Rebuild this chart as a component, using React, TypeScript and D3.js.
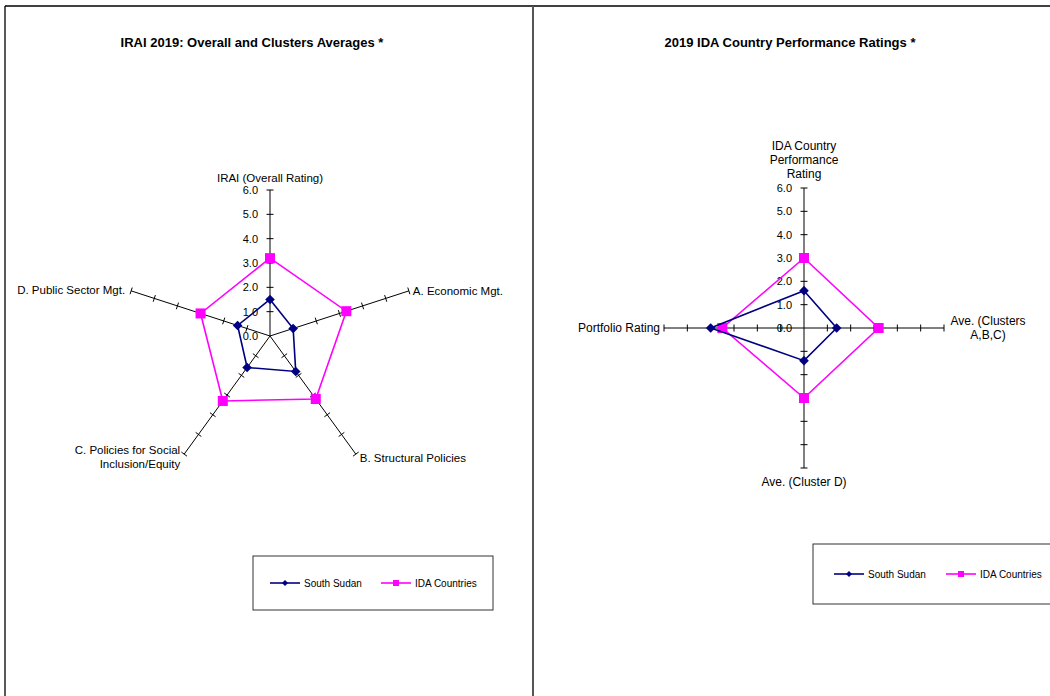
import { useEffect, useRef } from 'react';
import * as d3 from 'd3';

// IRAI chart (left)
const iraiAxes = ['IRAI (Overall Rating)', 'A. Economic Mgt.', 'B. Structural Policies', 'C. Policies for Social\nInclusion/Equity', 'D. Public Sector Mgt.'];
const iraiSouthSudan = [1.5, 1.0, 1.8, 1.6, 1.4];
const iraiIDA = [3.2, 3.3, 3.2, 3.3, 3.0];

// CPR chart (right)
const cprAxes = ['IDA Country\nPerformance\nRating', 'Ave. (Clusters\nA,B,C)', 'Ave. (Cluster D)', 'Portfolio Rating'];
const cprSouthSudan = [1.6, 1.4, 1.4, 4.0];
const cprIDA = [3.0, 3.2, 3.0, 3.5];

const tickLabels = ['0.0', '1.0', '2.0', '3.0', '4.0', '5.0', '6.0'];
const seriesNames = ['South Sudan', 'IDA Countries'];

const NAVY = '#000080';
const MAGENTA = '#FF00FF';
const FONT = '"Liberation Sans", Arial, sans-serif';

type LabelPos = { dx: number; dy: number; anchor: string };

const diamond = (h: number) => `M0,${-h}L${h},0L0,${h}L${-h},0Z`;

function drawRadar(
  g: d3.Selection<SVGGElement, unknown, null, undefined>,
  cx: number, cy: number, R: number,
  axes: string[], s1: number[], s2: number[],
  labelPos: LabelPos[], tickLabelX: number, labelSize: number
) {
  const r = d3.scaleLinear().domain([0, 6]).range([0, R]);
  const n = axes.length;
  const ang = (i: number) => (i * 2 * Math.PI) / n;
  const pt = (i: number, v: number): [number, number] => [
    cx + Math.sin(ang(i)) * r(v),
    cy - Math.cos(ang(i)) * r(v),
  ];

  // axes + ticks
  axes.forEach((_, i) => {
    const [x2, y2] = pt(i, 6);
    g.append('line').attr('x1', cx).attr('y1', cy).attr('x2', x2).attr('y2', y2)
      .attr('stroke', '#000').attr('stroke-width', 1);
    const px = Math.cos(ang(i)), py = Math.sin(ang(i));
    d3.range(1, 7).forEach(t => {
      const [tx, ty] = pt(i, t);
      const len = 3.5;
      g.append('line')
        .attr('x1', tx - px * len).attr('y1', ty - py * len)
        .attr('x2', tx + px * len).attr('y2', ty + py * len)
        .attr('stroke', '#000').attr('stroke-width', 1);
    });
  });

  // tick labels on first axis
  tickLabels.forEach((lab, t) => {
    g.append('text').attr('x', tickLabelX).attr('y', cy - r(t))
      .attr('text-anchor', 'end').attr('dominant-baseline', 'central')
      .style('font-family', FONT).style('font-size', '11px').attr('fill', '#000')
      .text(lab);
  });

  // axis labels
  axes.forEach((lab, i) => {
    const [x, y] = pt(i, 6);
    const lines = lab.split('\n');
    const p = labelPos[i];
    const t = g.append('text')
      .attr('text-anchor', p.anchor)
      .style('font-family', FONT).style('font-size', `${labelSize}px`).attr('fill', '#000');
    lines.forEach((l, k) => {
      t.append('tspan').attr('x', x + p.dx).attr('y', y + p.dy + k * 14)
        .attr('dominant-baseline', 'central').text(l);
    });
  });

  const line = d3.line<[number, number]>().curve(d3.curveLinearClosed);
  const seriesData = [
    { vals: s2, color: MAGENTA, shape: 'square' },
    { vals: s1, color: NAVY, shape: 'diamond' },
  ];
  seriesData.forEach(s => {
    const pts = s.vals.map((v, i) => pt(i, v));
    g.append('path').attr('d', line(pts)).attr('fill', 'none')
      .attr('stroke', s.color).attr('stroke-width', 1.6);
    pts.forEach(([x, y]) => {
      if (s.shape === 'square') {
        g.append('rect').attr('x', x - 5).attr('y', y - 5).attr('width', 10).attr('height', 10)
          .attr('fill', s.color);
      } else {
        g.append('path').attr('d', diamond(4.8)).attr('transform', `translate(${x},${y})`)
          .attr('fill', s.color);
      }
    });
  });
}

function drawLegend(
  g: d3.Selection<SVGGElement, unknown, null, undefined>,
  x: number, y: number, w: number, h: number, itemXs: number[]
) {
  g.append('rect').attr('x', x).attr('y', y).attr('width', w).attr('height', h)
    .attr('fill', '#fff').attr('stroke', '#333').attr('stroke-width', 1);
  const cy = y + h / 2;
  seriesNames.forEach((name, i) => {
    const lx = itemXs[i];
    const color = i === 0 ? NAVY : MAGENTA;
    g.append('line').attr('x1', lx).attr('y1', cy).attr('x2', lx + 30).attr('y2', cy)
      .attr('stroke', color).attr('stroke-width', 1.6);
    if (i === 0) {
      g.append('path').attr('d', diamond(3)).attr('transform', `translate(${lx + 15},${cy})`)
        .attr('fill', color);
    } else {
      g.append('rect').attr('x', lx + 12).attr('y', cy - 3).attr('width', 6).attr('height', 6).attr('fill', color);
    }
    g.append('text').attr('x', lx + 34).attr('y', cy).attr('dominant-baseline', 'central')
      .style('font-family', FONT).style('font-size', '10px').attr('fill', '#000').text(name);
  });
}

export default function App() {
  const ref = useRef<SVGSVGElement>(null);

  useEffect(() => {
    if (!ref.current) return;
    const svg = d3.select(ref.current);
    svg.selectAll('*').remove();
    const g = svg.append('g');

    g.append('rect').attr('x', 0).attr('y', 0).attr('width', 1050).attr('height', 696).attr('fill', '#fff');

    // panel borders
    g.append('line').attr('x1', 5).attr('y1', 6).attr('x2', 1050).attr('y2', 6).attr('stroke', '#000').attr('stroke-width', 1.3);
    g.append('line').attr('x1', 5).attr('y1', 6).attr('x2', 5).attr('y2', 696).attr('stroke', '#000').attr('stroke-width', 1.3);
    g.append('line').attr('x1', 533).attr('y1', 6).attr('x2', 533).attr('y2', 696).attr('stroke', '#555').attr('stroke-width', 2);

    // titles
    g.append('text').attr('x', 252).attr('y', 42).attr('text-anchor', 'middle').attr('dominant-baseline', 'central')
      .style('font-family', FONT).style('font-size', '13px').style('font-weight', 'bold')
      .text('IRAI 2019: Overall and Clusters Averages *');
    g.append('text').attr('x', 790).attr('y', 42).attr('text-anchor', 'middle').attr('dominant-baseline', 'central')
      .style('font-family', FONT).style('font-size', '13px').style('font-weight', 'bold')
      .text('2019 IDA Country Performance Ratings *');

    drawRadar(g, 270, 336, 146, iraiAxes, iraiSouthSudan, iraiIDA, [
      { dx: 0, dy: -12, anchor: 'middle' },
      { dx: 4, dy: 0, anchor: 'start' },
      { dx: 4, dy: 4, anchor: 'start' },
      { dx: -4, dy: -4, anchor: 'end' },
      { dx: -6, dy: -1, anchor: 'end' },
    ], 258, 11.5);

    drawRadar(g, 804, 328, 140, cprAxes, cprSouthSudan, cprIDA, [
      { dx: 0, dy: -42, anchor: 'middle' },
      { dx: 44, dy: -7, anchor: 'middle' },
      { dx: 0, dy: 14, anchor: 'middle' },
      { dx: -4, dy: 0, anchor: 'end' },
    ], 792, 12);

    drawLegend(g, 253, 556, 240, 54, [270, 381]);
    drawLegend(g, 813, 544, 245, 60, [834, 946]);
  }, []);

  return (
    <svg ref={ref} width={1050} height={696}
      style={{ position: 'absolute', left: 0, top: 0, display: 'block' }} />
  );
}
